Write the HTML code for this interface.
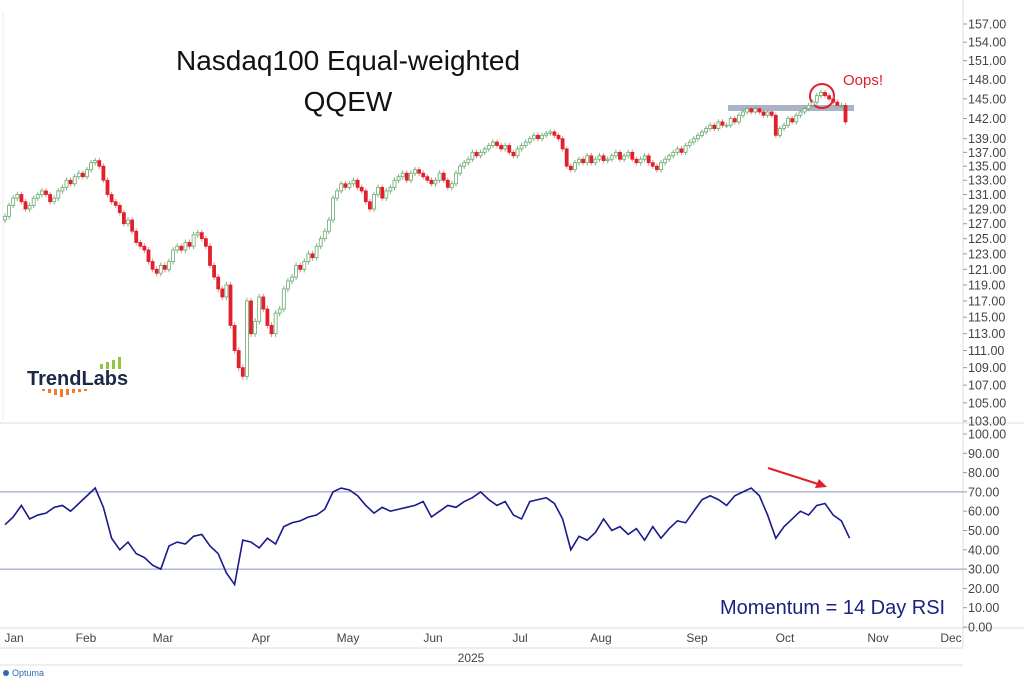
<!DOCTYPE html>
<html><head><meta charset="utf-8"><style>
body{margin:0;background:#fff;font-family:"Liberation Sans",sans-serif}
svg{display:block}
</style></head><body>
<svg id="c" width="1024" height="678">
<rect x="0" y="0" width="1024" height="678" fill="#fff"/>
<line x1="963" y1="0" x2="963" y2="648" stroke="#ddd"/>
<line x1="0" y1="423" x2="1024" y2="423" stroke="#ddd"/>
<line x1="0" y1="628" x2="1024" y2="628" stroke="#ddd"/>
<line x1="0" y1="648" x2="963" y2="648" stroke="#ddd"/>
<line x1="0" y1="665" x2="963" y2="665" stroke="#ddd"/>
<line x1="3" y1="12" x2="3" y2="420" stroke="#eee"/>
<text x="348" y="70" font-size="28" text-anchor="middle" fill="#111">Nasdaq100 Equal-weighted</text>
<text x="348" y="111" font-size="28" text-anchor="middle" fill="#111">QQEW</text>
<g>
<text x="27" y="385" font-size="20" font-weight="bold" fill="#1c2a45">TrendLabs</text>
<rect x="100" y="364" width="3" height="5" fill="#8dc63f"/><rect x="106" y="362" width="3" height="7" fill="#8dc63f"/><rect x="112" y="360" width="3" height="9" fill="#8dc63f"/><rect x="118" y="357" width="3" height="12" fill="#8dc63f"/>
<rect x="42" y="389" width="3" height="2" fill="#f47a30"/><rect x="48" y="389" width="3" height="4" fill="#f47a30"/><rect x="54" y="389" width="3" height="6" fill="#f47a30"/><rect x="60" y="389" width="3" height="8" fill="#f47a30"/><rect x="66" y="389" width="3" height="6" fill="#f47a30"/><rect x="72" y="389" width="3" height="4" fill="#f47a30"/><rect x="78" y="389" width="3" height="3" fill="#f47a30"/><rect x="84" y="389" width="3" height="2" fill="#f47a30"/>
</g>
<rect x="728" y="105" width="126" height="6" fill="#a9b4c8"/>
<circle cx="822" cy="96" r="12" fill="none" stroke="#e0202a" stroke-width="2"/>
<text x="843" y="85" font-size="15" fill="#e0202a">Oops!</text>
<line x1="768" y1="468" x2="818" y2="484" stroke="#e0202a" stroke-width="2"/>
<polygon points="827,487 815,488 819,479" fill="#e0202a"/>
<text x="720" y="614" font-size="20" fill="#1a237e">Momentum = 14 Day RSI</text>
<text x="471" y="662" font-size="12" fill="#444" text-anchor="middle">2025</text>
<text x="12" y="676" font-size="9" fill="#2a6cb0">Optuma</text>
<circle cx="6" cy="673" r="3" fill="#2a6cb0"/>
<g id="price"></g><g id="rsi"></g><g id="axes"></g>
</svg>
<script>
const closes=[128,129.5,130.5,131,130,129,129.5,130.5,131,131.5,
131,130,130.5,131.5,132,133,132.5,133.5,134,133.5,
134.5,135.5,135.8,135,133,131,130,129.5,128.5,127,
127.5,126,124.5,124,123.5,122,121,120.5,121.5,121,
122,123.5,124,123.5,124.5,124,125.5,125.8,125,124,
121.5,120,118.5,117.5,119,114,111,109,108,117,
113,114.5,117.5,116,114,113,115.5,116,118.5,119.5,
120,121.5,121,122,123,122.5,124,125,126,127.5,
130.5,131.5,132.5,132,132.5,133,132,131.5,130,129,
131,132,130.5,131.5,132,133,133.5,134,133,134,
134.5,134,133.5,133,132.5,133,134,133,132,132.5,
134,135,135.5,136,137,136.5,137,137.5,138,138.5,
138,137.5,138,137,136.5,137.5,138,138.5,139,139.5,
139,139.5,139.8,140,139.5,139,137.5,135,134.5,135.5,
136,135.5,136.5,135.5,136,136.5,135.8,136,136.5,137,
136,136.5,137,136,135.5,136,136.5,135.5,135,134.5,
135.5,136,136.5,137,137.5,137,138,138.5,139,139.5,
140,140.5,141,140.5,141.5,141,141,142,141.5,142.5,
143,143.5,143,143.5,143,142.5,143,142.5,139.5,140.5,
141,142,141.5,142.5,143,143.5,144,144.5,145.5,146,
145.5,145,144.5,144,144,141.5];
const rsiValues=[53,57,63,56,58,59,62,63,60,64,68,72,62,46,40,44,38,36,32,30,
42,44,43,47,48,42,38,28,22,45,44,41,46,43,52,54,55,57,58,61,
70,72,71,68,63,59,62,60,61,62,63,65,57,60,63,62,65,67,70,66,
63,65,58,56,65,66,67,64,56,40,47,45,49,56,50,52,48,51,45,52,
46,51,55,54,60,66,68,66,63,68,70,72,68,58,46,52,56,60,58,63,64,58,55,46];
const priceTicks=[157,154,151,148,145,142,139,137,135,133,131,129,127,125,123,121,119,117,115,113,111,109,107,105,103];
const rsiTicks=[100,90,80,70,60,50,40,30,20,10,0];
const months=["Jan","Feb","Mar","Apr","May","Jun","Jul","Aug","Sep","Oct","Nov","Dec"];
const monthX=[14,86,163,261,348,433,520,601,697,785,878,951];
const NS="http://www.w3.org/2000/svg";
const pMax=157,pMin=103,pTop=24,pBot=421;
function yP(p){return pTop+(Math.log(pMax)-Math.log(p))/(Math.log(pMax)-Math.log(pMin))*(pBot-pTop);}
function yR(v){return 627-v*1.93;}
function xI(i){return 5+i*4.1;}
function mk(t,a,parent){const e=document.createElementNS(NS,t);for(const k in a)e.setAttribute(k,a[k]);parent.appendChild(e);return e;}
const gp=document.getElementById('price');
closes.forEach((c,i)=>{
 const o=i?closes[i-1]:c-0.5;
 const up=c>=o;
 const col=up?"#2e9a3e":"#e0202a";
 const x=xI(i);
 const hi=Math.max(o,c)+0.4,lo=Math.min(o,c)-0.4;
 const w=mk('line',{x1:x,x2:x,y1:yP(hi),y2:yP(lo),stroke:up?"#7bb87f":"#f08a8e"},gp);
 
 
 const yt=yP(Math.max(o,c)),yb=yP(Math.min(o,c));
 const r=mk('rect',{x:x-1.5,y:yt,width:3,height:Math.max(1,yb-yt),fill:up?"#fff":col,stroke:up?"#6aa86f":col,'stroke-width':0.8},gp);
 
 
});
const gr=document.getElementById('rsi');
[70,30].forEach(v=>{const l=mk('line',{x1:0,x2:963,y1:yR(v),y2:yR(v),stroke:"#8a93b8"},gr);
 
 });
const pl=mk('polyline',{points:rsiValues.map((v,k)=>xI(2*k)+","+yR(v)).join(" "),fill:"none",stroke:"#1a1a8c","stroke-width":1.6},gr);


const ga=document.getElementById('axes');
priceTicks.forEach(p=>{const y=yP(p);
 mk('line',{x1:963,x2:967,y1:y,y2:y,stroke:"#999"},ga);
 const t=mk('text',{x:968,y:y+4.5,'font-size':12.5,fill:"#444"},ga);t.textContent=p.toFixed(2);
 
 });
rsiTicks.forEach(v=>{const y=yR(v);
 mk('line',{x1:963,x2:967,y1:y,y2:y,stroke:"#999"},ga);
 const t=mk('text',{x:968,y:y+4.5,'font-size':12.5,fill:"#444"},ga);t.textContent=v.toFixed(2);
 
 });
months.forEach((m,i)=>{const t=mk('text',{x:monthX[i],y:642,'font-size':12,fill:"#444",'text-anchor':"middle"},ga);t.textContent=m;
 
 });
</script>
</body></html>
